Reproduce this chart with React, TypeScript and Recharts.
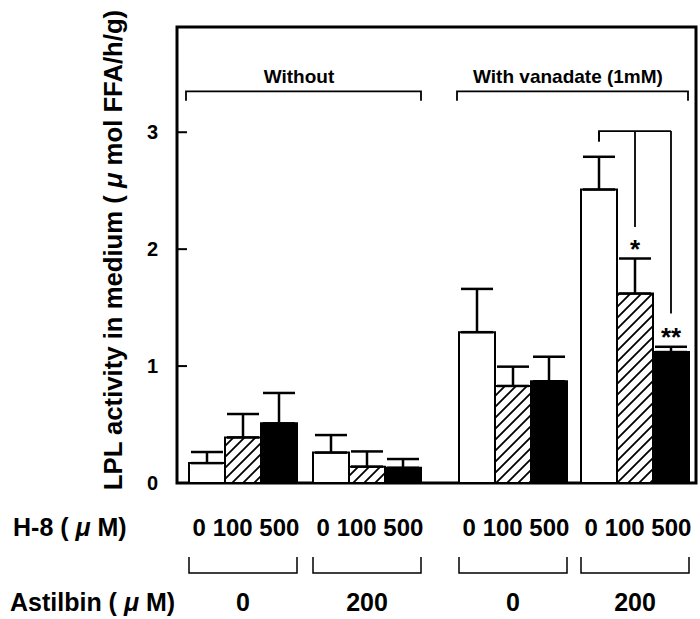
import React from 'react';
import { BarChart, Bar, XAxis, YAxis, ErrorBar, ReferenceArea } from 'recharts';

// ---- data ----
const astilbinLevels = ['0', '200'];
const h8Levels = ['0', '100', '500'];
const panelLabels = ['Without', 'With vanadate (1mM)'];
const yTicks = [0, 1, 2, 3];

// means (index = astilbin level)
const withoutH8_0 = [0.17, 0.26];
const withoutH8_100 = [0.39, 0.14];
const withoutH8_500 = [0.51, 0.13];
const vanadateH8_0 = [1.29, 2.51];
const vanadateH8_100 = [0.83, 1.62];
const vanadateH8_500 = [0.87, 1.12];

// upper error (SEM)
const withoutErr_0 = [0.095, 0.15];
const withoutErr_100 = [0.2, 0.13];
const withoutErr_500 = [0.26, 0.075];
const vanadateErr_0 = [0.37, 0.28];
const vanadateErr_100 = [0.165, 0.3];
const vanadateErr_500 = [0.21, 0.045];

// significance (vanadate, astilbin 200; H-8 0 / 100 / 500)
const sigMarks = ['', '*', '**'];
const sigBracketTop = 3.01;
const sigBracketEnds = [2.92, 2.19, 1.45];

const panelBracketLevel = 3.35;
const panelBracketDrop = 3.27;
const yMax = 3.9;

const data = astilbinLevels.map((a, i) => ({
  astilbin: a,
  w0: withoutH8_0[i],
  w100: withoutH8_100[i],
  w500: withoutH8_500[i],
  w0e: [0, withoutErr_0[i]],
  w100e: [0, withoutErr_100[i]],
  w500e: [0, withoutErr_500[i]],
  v0: vanadateH8_0[i],
  v100: vanadateH8_100[i],
  v500: vanadateH8_500[i],
  v0e: [0, vanadateErr_0[i]],
  v100e: [0, vanadateErr_100[i]],
  v500e: [0, vanadateErr_500[i]],
}));

const FONT = '"Liberation Sans", Arial, Helvetica, sans-serif';
const BAR = 36;
const PLOT_LEFT = 177;
const PLOT_BOTTOM = 483;

function GroupTick(props: any) {
  const { x, payload } = props;
  const y = PLOT_BOTTOM;
  return (
    <g fontFamily={FONT} fontWeight="bold" fill="#000">
      <text x={x + 3} y={y + 53} textAnchor="middle" fontSize={24}>
        {h8Levels.join(' ')}
      </text>
      <path
        d={`M${x - 54},${y + 74}V${y + 90}H${x + 54}V${y + 74}`}
        fill="none"
        stroke="#000"
        strokeWidth={1.5}
      />
      <text x={x} y={y + 128} textAnchor="middle" fontSize={25}>
        {payload.value}
      </text>
    </g>
  );
}

function YTick(props: any) {
  const { y, payload } = props;
  const x = PLOT_LEFT;
  return (
    <g>
      <line x1={x} x2={x + 10} y1={y} y2={y} stroke="#000" strokeWidth={2} />
      <text
        x={x - 19}
        y={y + 7}
        textAnchor="end"
        fontSize={20}
        fontFamily={FONT}
        fontWeight="bold"
        fill="#000"
      >
        {payload.value}
      </text>
    </g>
  );
}

function YTitle(props: any) {
  const vb = props.viewBox || { y: 27, height: 456 };
  const bx = PLOT_LEFT - 55;
  const cy = vb.y + vb.height / 2 - 5;
  return (
    <text
      x={bx}
      y={cy}
      transform={`rotate(-90, ${bx}, ${cy})`}
      textAnchor="middle"
      fontSize={25.7}
      fontFamily={FONT}
      fontWeight="bold"
      fill="#000"
    >
      LPL activity in medium ( <tspan fontStyle="italic">μ</tspan> mol FFA/h/g)
    </text>
  );
}

function RowTitles() {
  const lx = PLOT_LEFT - 164;
  const y = PLOT_BOTTOM;
  return (
    <g fontFamily={FONT} fontWeight="bold" fill="#000" fontSize={25}>
      <text x={lx} y={y + 53}>
        H-8 ( <tspan fontStyle="italic">μ</tspan> M)
      </text>
      <text x={lx - 3} y={y + 128}>
        Astilbin ( <tspan fontStyle="italic">μ</tspan> M)
      </text>
    </g>
  );
}

function PanelBracket(props: any) {
  const { x, y, width, height, text } = props;
  return (
    <g>
      <path
        d={`M${x + 5},${y + height}V${y}H${x + width - 8}V${y + height}`}
        fill="none"
        stroke="#000"
        strokeWidth={1.8}
      />
      <text
        x={x + width / 2 - 6}
        y={y - 8}
        textAnchor="middle"
        fontSize={19}
        fontFamily={FONT}
        fontWeight="bold"
        fill="#000"
      >
        {text}
      </text>
    </g>
  );
}

function SigBracket(props: any) {
  const { x, y, width, height } = props;
  const k = height / (sigBracketTop - sigBracketEnds[2]);
  const cx = x + width / 2;
  const centers = [cx - BAR, cx, cx + BAR];
  const idx = 1;
  const tops = [
    vanadateH8_0[idx] + vanadateErr_0[idx],
    vanadateH8_100[idx] + vanadateErr_100[idx],
    vanadateH8_500[idx] + vanadateErr_500[idx],
  ];
  const toY = (v: number) => y + (sigBracketTop - v) * k;
  return (
    <g>
      <path
        d={`M${centers[0]},${toY(sigBracketEnds[0])}V${y}H${centers[2]}`}
        fill="none"
        stroke="#000"
        strokeWidth={1.8}
      />
      {centers.map((c, i) => (
        <line key={`l${i}`} x1={c} x2={c} y1={y} y2={toY(sigBracketEnds[i])} stroke="#000" strokeWidth={1.8} />
      ))}
      {centers.map((c, i) =>
        sigMarks[i] ? (
          <text
            key={`s${i}`}
            x={c}
            y={toY(tops[i]) - 1}
            textAnchor="middle"
            fontSize={26}
            fontFamily={FONT}
            fontWeight="bold"
            fill="#000"
          >
            {sigMarks[i]}
          </text>
        ) : null
      )}
    </g>
  );
}

const errProps = { width: 16, stroke: '#000', strokeWidth: 2.5, direction: 'y' as const };

export default function App() {
  return (
    <div style={{ position: 'absolute', left: 0, top: 0, width: 700, height: 619, background: '#fff', overflow: 'hidden' }}>
      <svg width={0} height={0} style={{ position: 'absolute' }}>
        <defs>
          <pattern id="hatch" patternUnits="userSpaceOnUse" width={11} height={11}>
            <rect width={11} height={11} fill="#fff" />
            <path d="M0,11 L11,0 M-3,3 L3,-3 M8,14 L14,8" stroke="#000" strokeWidth={1.8} />
          </pattern>
        </defs>
      </svg>
      <BarChart
        width={700}
        height={619}
        data={data}
        margin={{ top: 27, right: 4, bottom: 134, left: 176 }}
        barGap={0}
        barSize={BAR}
      >
        <XAxis xAxisId={0} dataKey="astilbin" hide />
        <XAxis
          xAxisId="w"
          dataKey="astilbin"
          height={1}
          padding={{ left: 4, right: 267 }}
          axisLine={false}
          tickLine={false}
          tickSize={0}
          tickMargin={0}
          interval={0}
          tick={<GroupTick />}
          label={<RowTitles />}
        />
        <XAxis
          xAxisId="v"
          dataKey="astilbin"
          height={1}
          padding={{ left: 275, right: 0 }}
          axisLine={false}
          tickLine={false}
          tickSize={0}
          tickMargin={0}
          interval={0}
          tick={<GroupTick />}
        />
        <YAxis
          width={1}
          domain={[0, yMax]}
          ticks={yTicks}
          axisLine={false}
          tickLine={false}
          tickSize={0}
          tickMargin={0}
          tick={<YTick />}
          label={<YTitle />}
        />
        <ReferenceArea
          xAxisId={0}
          y1={0}
          y2={yMax}
          fill="none"
          fillOpacity={0}
          stroke="#000"
          strokeWidth={3}
        />
        <ReferenceArea
          xAxisId="w"
          x1="0"
          x2="200"
          y1={panelBracketDrop}
          y2={panelBracketLevel}
          shape={(p: any) => <PanelBracket {...p} text={panelLabels[0]} />}
        />
        <ReferenceArea
          xAxisId="v"
          x1="0"
          x2="200"
          y1={panelBracketDrop}
          y2={panelBracketLevel}
          shape={(p: any) => <PanelBracket {...p} text={panelLabels[1]} />}
        />
        <ReferenceArea
          xAxisId="v"
          x1="200"
          x2="200"
          y1={sigBracketEnds[2]}
          y2={sigBracketTop}
          shape={(p: any) => <SigBracket {...p} />}
        />
        <Bar xAxisId="w" dataKey="w0" fill="#fff" stroke="#000" strokeWidth={2} isAnimationActive={false}>
          <ErrorBar dataKey="w0e" {...errProps} />
        </Bar>
        <Bar xAxisId="w" dataKey="w100" fill="url(#hatch)" stroke="#000" strokeWidth={2} isAnimationActive={false}>
          <ErrorBar dataKey="w100e" {...errProps} />
        </Bar>
        <Bar xAxisId="w" dataKey="w500" fill="#000" stroke="#000" strokeWidth={2} isAnimationActive={false}>
          <ErrorBar dataKey="w500e" {...errProps} />
        </Bar>
        <Bar xAxisId="v" dataKey="v0" fill="#fff" stroke="#000" strokeWidth={2} isAnimationActive={false}>
          <ErrorBar dataKey="v0e" {...errProps} />
        </Bar>
        <Bar xAxisId="v" dataKey="v100" fill="url(#hatch)" stroke="#000" strokeWidth={2} isAnimationActive={false}>
          <ErrorBar dataKey="v100e" {...errProps} />
        </Bar>
        <Bar xAxisId="v" dataKey="v500" fill="#000" stroke="#000" strokeWidth={2} isAnimationActive={false}>
          <ErrorBar dataKey="v500e" {...errProps} />
        </Bar>
      </BarChart>
    </div>
  );
}
